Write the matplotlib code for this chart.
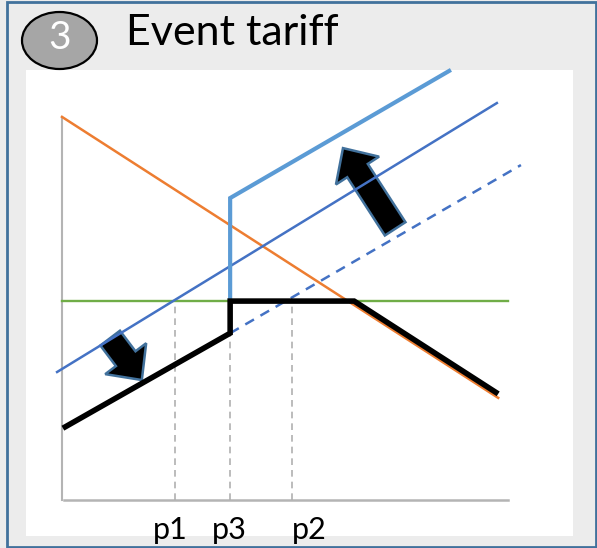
import matplotlib.pyplot as plt
import matplotlib.patches as mpatches

plt.rcParams['font.family'] = ['Lato', 'DejaVu Sans']

# schematic values (arbitrary units, x axis runs 0..10)
orange_x = [0.0, 9.78]
orange_y = [8.59, 2.29]
blue_x = [-0.11, 9.75]
blue_y = [2.87, 8.90]
blue_dash_x = [3.77, 10.29]
blue_dash_y = [3.74, 7.51]
lblue_x = [3.77, 3.77, 8.68]
lblue_y = [4.46, 6.77, 9.62]
green_x = [0.0, 10.0]
green_y = [4.46, 4.46]
black_x = [0.02, 3.77, 3.77, 6.55, 9.78]
black_y = [1.61, 3.74, 4.46, 4.46, 2.38]
p_names = ['p1', 'p3', 'p2']
p_vals = [2.53, 3.77, 5.16]
p_tops = [4.46, 3.74, 4.46]
p_label_x = [2.42, 3.75, 5.54]
arrow_tail = [(1.08, 3.63), (7.47, 6.08)]
arrow_vec = [(0.71, -0.94), (-1.17, 1.81)]

W, H = 597, 548
fig = plt.figure(figsize=(W / 100, H / 100), dpi=100)
fig.patch.set_facecolor('#ececec')

# background / frame, in pixel coords
bg = fig.add_axes([0, 0, 1, 1])
bg.set_xlim(0, W)
bg.set_ylim(H, 0)
bg.axis('off')
bg.add_patch(mpatches.Rectangle((6.5, 1.5), 589, 545, fill=False,
                                edgecolor='#41719c', lw=2))
bg.add_patch(mpatches.Rectangle((26, 70), 547, 466, facecolor='white',
                                edgecolor='none'))
bg.add_patch(mpatches.Ellipse((59.5, 40.5), 75, 57, facecolor='#a6a6a6',
                              edgecolor='black', lw=1.6))
bg.text(60, 38, '3', color='white', fontsize=28, ha='center', va='center')
bg.text(126, 33, 'Event tariff', color='black', fontsize=31,
        ha='left', va='center')

# chart area
x0, x1 = 62, 508
ytop, ybot = 117, 500
ax = fig.add_axes([x0 / W, (H - ybot) / H, (x1 - x0) / W, (ybot - ytop) / H])
ax.set_xlim(0, 10)
ax.set_ylim(0, 10 * (ybot - ytop) / (x1 - x0))
ax.axis('off')

ax.plot([0, 0], [0, ax.get_ylim()[1]], color='#b4b4b4', lw=1.5, clip_on=False)
ax.plot([0.05, 10], [0, 0], color='#b4b4b4', lw=1.8, clip_on=False)

for xv, top in zip(p_vals, p_tops):
    ax.plot([xv, xv], [0, top], color='#b0b0b0', lw=1.2, ls=(0, (4, 3)),
            clip_on=False)

ax.plot(green_x, green_y, color='#70ad47', lw=1.7, clip_on=False)
ax.plot(orange_x, orange_y, color='#ed7d31', lw=1.8, clip_on=False)
ax.plot(blue_x, blue_y, color='#4472c4', lw=1.8, clip_on=False)
ax.plot(blue_dash_x, blue_dash_y, color='#4472c4', lw=1.8,
        ls=(0, (4, 3)), clip_on=False)
ax.plot(lblue_x, lblue_y, color='#5b9bd5', lw=3, clip_on=False,
        solid_joinstyle='miter')
ax.plot(black_x, black_y, color='black', lw=4, clip_on=False,
        solid_joinstyle='miter', solid_capstyle='butt')

for (tx, ty), (dx, dy) in zip(arrow_tail, arrow_vec):
    ax.add_patch(mpatches.FancyArrow(tx, ty, dx, dy, width=0.55,
                                     head_width=1.15, head_length=0.6,
                                     length_includes_head=True,
                                     facecolor='black', edgecolor='#41719c',
                                     lw=1.8, clip_on=False))

for name, xv in zip(p_names, p_label_x):
    ax.text(xv, -0.68, name, fontsize=22, ha='center', va='center',
            clip_on=False)

fig.savefig('out.png', dpi=100, facecolor=fig.get_facecolor())
